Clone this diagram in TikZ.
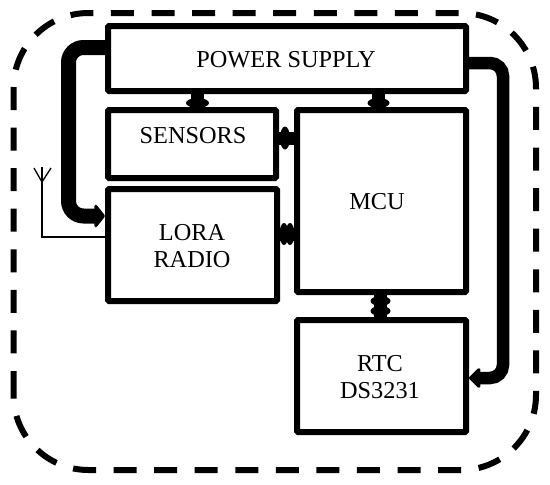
\documentclass[tikz,border=0pt]{standalone}
\usepackage{fontspec}
\setmainfont{Liberation Serif}
\usetikzlibrary{arrows.meta,calc}
\tikzset{
  box/.style={draw=black,line width=6pt,rectangle,rounded corners=1pt,inner sep=0pt,fill=white},
  lbl/.style={font=\fontsize{24.3pt}{27pt}\selectfont,inner sep=0pt,anchor=base,text=black},
  feedl/.style={draw=black,line width=15pt,rounded corners=15pt,-{Triangle[round,length=11pt,width=27pt,line width=3pt]}},
  feedr/.style={draw=black,line width=12.5pt,rounded corners=13pt,-{Triangle[round,length=12pt,width=23pt,line width=3pt]}},
  bus/.style={draw=black,line width=13pt},
  bump/.style={fill=black},
  ant/.style={draw=black,line width=1.3pt},
  frame/.style={draw=black,line width=6pt,dash pattern=on 23pt off 17.57pt,rounded corners=75pt}
}
\begin{document}
\begin{tikzpicture}[x=1pt,y=-1pt]
\useasboundingbox (0,0) rectangle (550,485);
\draw[frame] (13.5,394) -- (13.5,13) -- (536,13) -- (536,470) -- (13.5,470) -- (13.5,394);
% boxes
\node[box,minimum width=358pt,minimum height=65pt] (power) at (287,58.5) {};
\node[box,minimum width=168pt,minimum height=68pt] (sensors) at (192,144) {};
\node[box,minimum width=169pt,minimum height=112pt] (lora) at (192.5,245) {};
\node[box,minimum width=169pt,minimum height=182pt] (mcu) at (381.5,201) {};
\node[box,minimum width=169pt,minimum height=112pt] (rtc) at (381.5,376) {};
% connectors
\coordinate (antbase) at (42,237);
\coordinate (anttop) at (42,167);
\coordinate (antj) at (42,182);
\coordinate (antl) at (34,168);
\coordinate (antr) at (51,168);
\draw[feedl] (power.west |- 0,47.5) -| (68.5,216) -- (lora.west |- 0,216);
\draw[feedr] (power.east |- 0,63) -| (503,378) -- (rtc.east |- 0,378);
\draw[bus] (power.south -| 197.5,0) -- (sensors.north -| 197.5,0);
\fill[bump] (197.5,103) ellipse [x radius=11.5pt,y radius=5pt];
\draw[bus] (power.south -| 378.5,0) -- (mcu.north -| 378.5,0);
\fill[bump] (378.5,103) ellipse [x radius=11pt,y radius=5pt];
\draw[bus] (sensors.east |- 0,138) -- (mcu.west |- 0,138);
\fill[bump] (285,138) ellipse [x radius=5pt,y radius=11.5pt];
\draw[bus] (lora.east |- 0,234) -- (mcu.west |- 0,234);
\fill[bump] (284,234) ellipse [x radius=4.5pt,y radius=11pt];
\fill[bump] (290,234) ellipse [x radius=4.5pt,y radius=11pt];
\draw[bus] (mcu.south -| 380.5,0) -- (rtc.north -| 380.5,0);
\fill[bump] (380.5,301) ellipse [x radius=10pt,y radius=5pt];
\fill[bump] (380.5,311) ellipse [x radius=10pt,y radius=5pt];
\draw[ant] (lora.west |- antbase) -- (antbase) -- (anttop);
\draw[ant] (antl) -- (antj) -- (antr);
% labels
\node[lbl] (tp) at (286,67) {POWER SUPPLY};
\node[lbl] (ts) at (193,143) {SENSORS};
\node[lbl] (tm) at (377,209) {MCU};
\node[lbl] (tl1) at (192,240.5) {LORA};
\node[lbl] (tl2) at (192,267.5) {RADIO};
\node[lbl] (tr1) at (380,371) {RTC};
\node[lbl] (tr2) at (380,398) {DS3231};
\end{tikzpicture}
\end{document}
